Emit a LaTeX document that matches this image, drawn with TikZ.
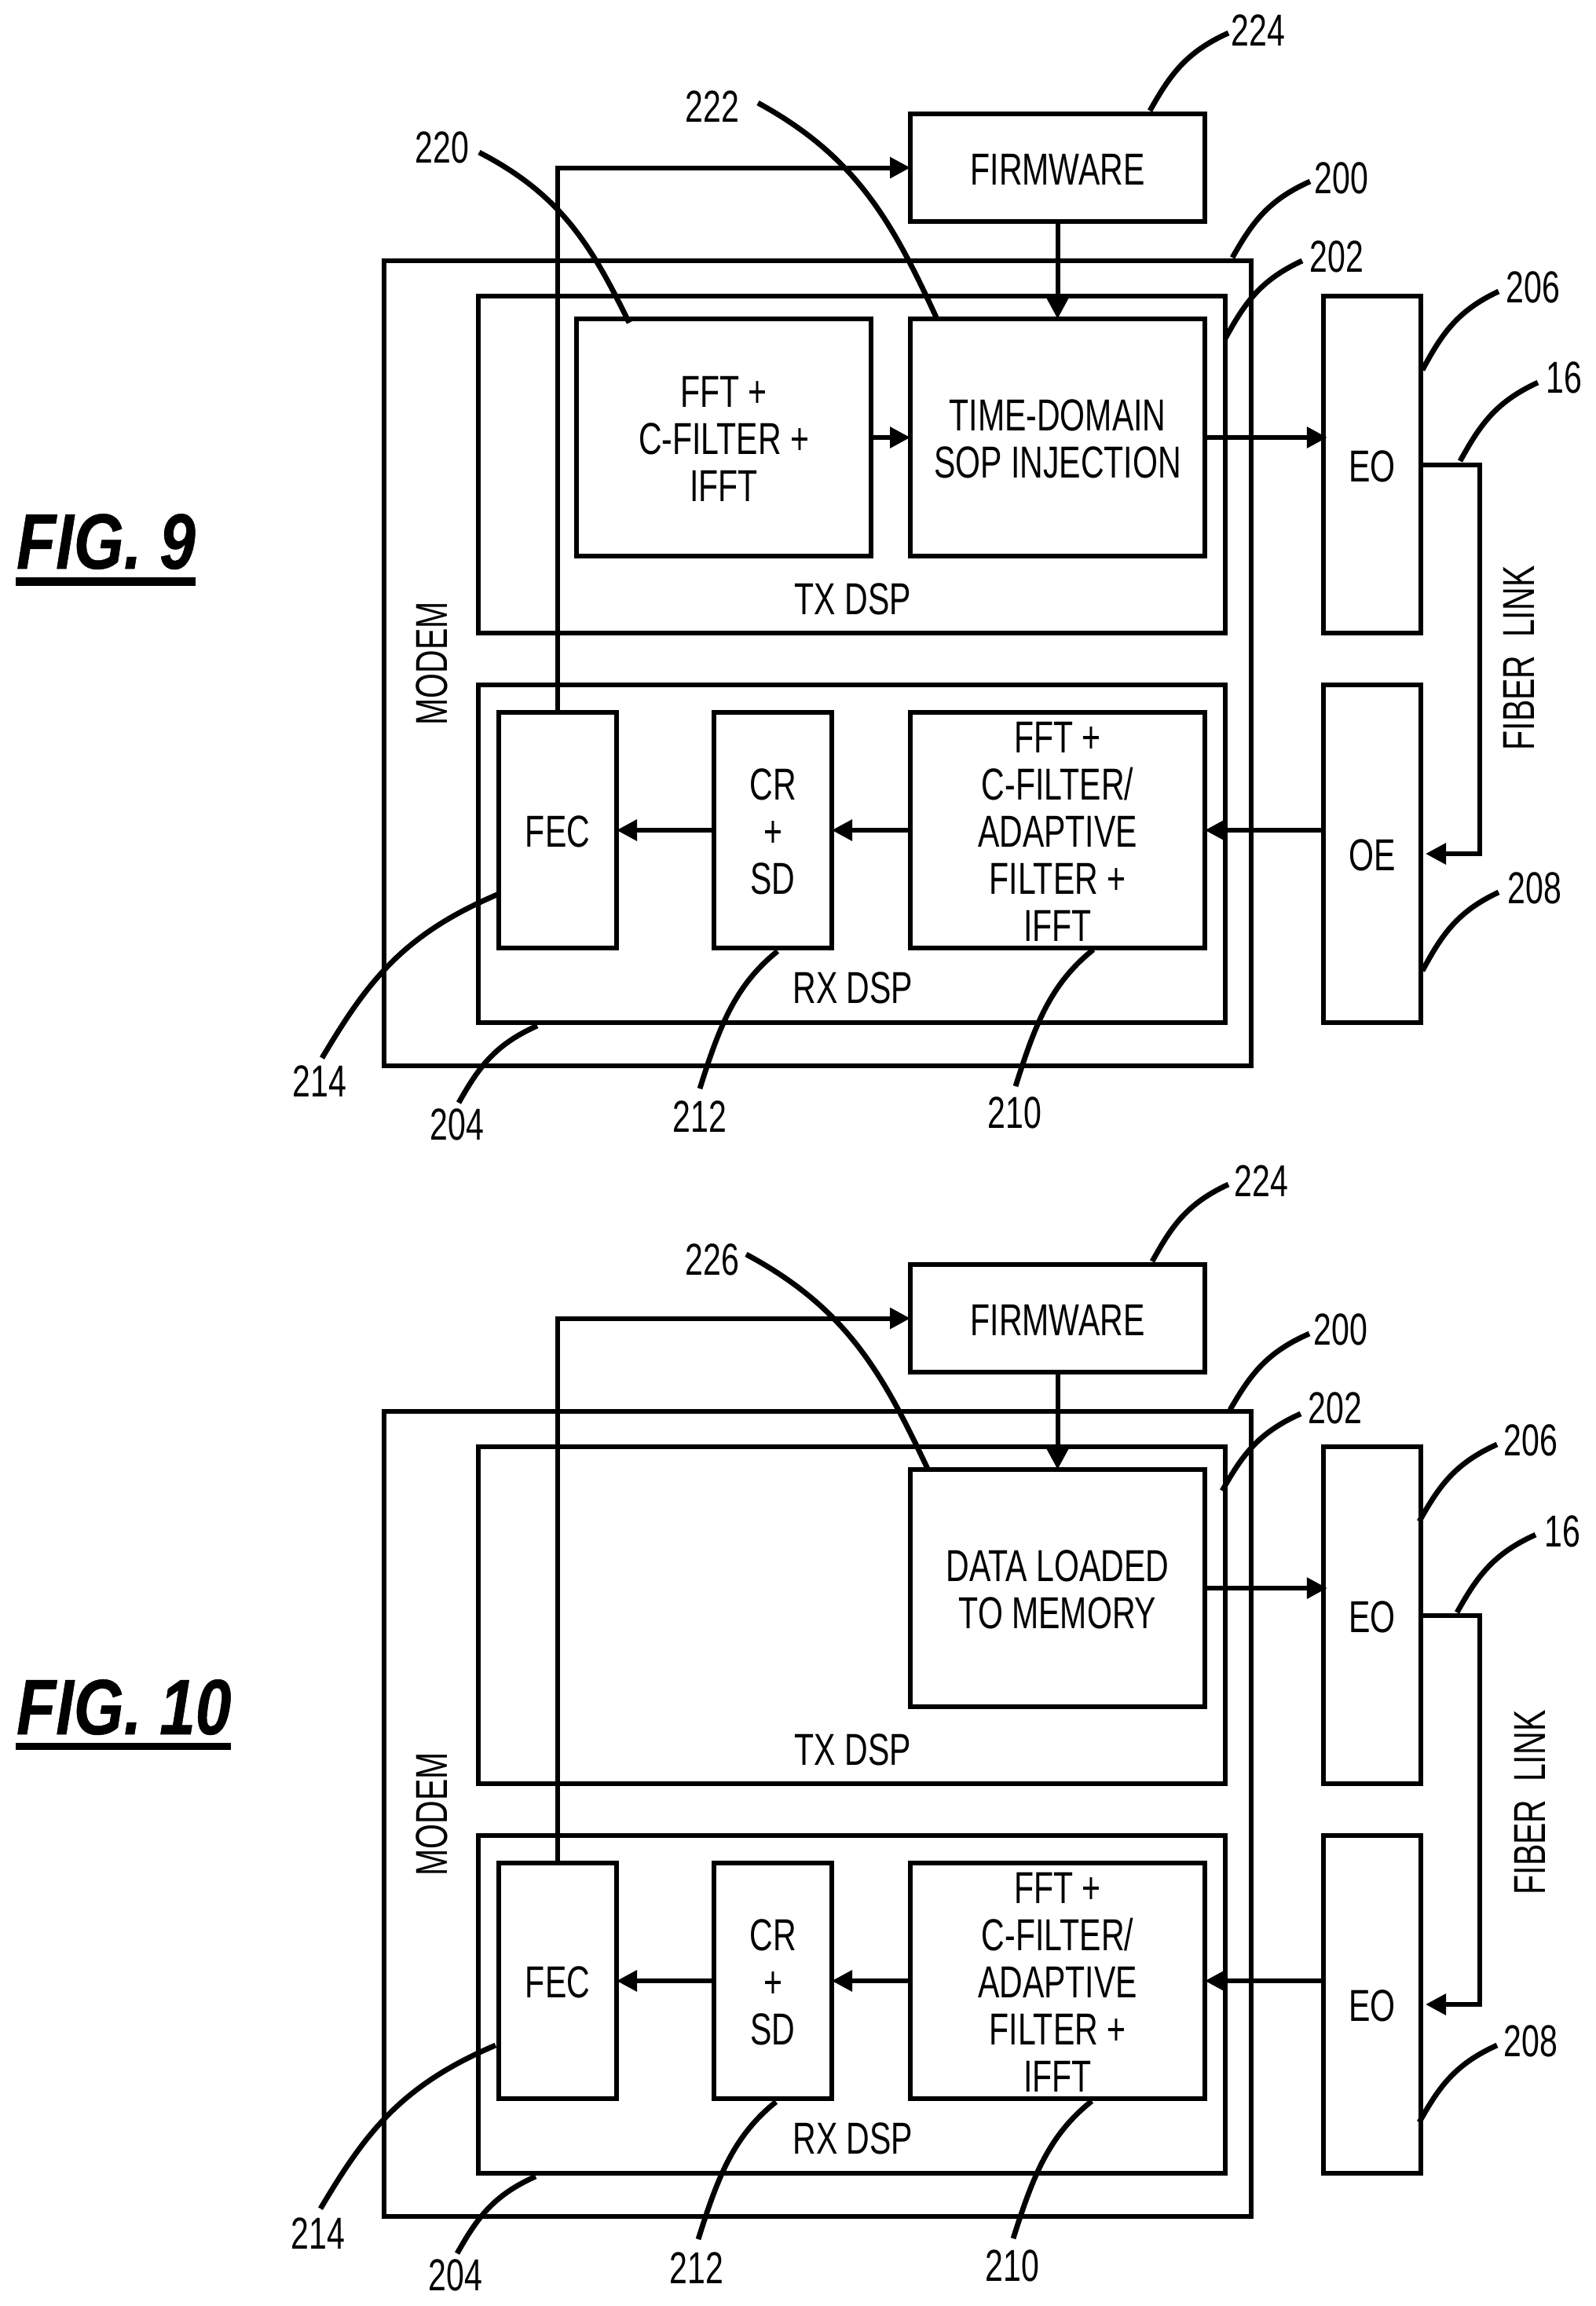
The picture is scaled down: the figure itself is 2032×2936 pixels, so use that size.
\documentclass[tikz,border=0pt]{standalone}
\usepackage{fontspec}
\setmainfont{Liberation Sans}[FakeStretch=0.72]
\newfontfamily\figf{Liberation Sans}[FakeStretch=0.82,FakeBold=0.5]
\usetikzlibrary{arrows.meta,calc}
\tikzset{
  lblfont/.style={font=\fontsize{14.25}{15}\selectfont},
  boxn/.style={draw=black,line width=1.5pt,inner sep=0pt,outer sep=0pt,align=center,lblfont,line join=miter},
  txt/.style={inner sep=0pt,outer sep=0pt,align=center,lblfont},
  arr/.style={line width=1.5pt,-{Triangle[length=6.5pt,width=6.5pt]}},
  ldrline/.style={line width=1.7pt},
  figlabel/.style={inner sep=0pt,outer sep=0pt,anchor=base west,font=\figf\bfseries\itshape\fontsize{25}{25}\selectfont}
}
\newcommand{\bx}[6]{%
  \pgfmathsetmacro{\cxx}{(#2+#4)/2}\pgfmathsetmacro{\cyy}{(#3+#5)/2}%
  \pgfmathsetmacro{\ww}{(#4-#2)*0.25}\pgfmathsetmacro{\hh}{(#5-#3)*0.25}%
  \node[boxn,minimum width=\ww pt,minimum height=\hh pt,label={[txt,yshift=-0.5pt]center:{#6}}] (#1) at (\cxx,\cyy) {};}
\newcommand{\ldr}[5]{%
  \coordinate (#1-a) at (#2,#3);\coordinate (#1-b) at (#4,#5);%
  \pgfmathsetmacro{\pa}{#2+0.55*(#4-#2)}\pgfmathsetmacro{\pb}{#3+0.25*(#5-#3)}%
  \pgfmathsetmacro{\pc}{#2+0.75*(#4-#2)}\pgfmathsetmacro{\pd}{#3+0.55*(#5-#3)}%
  \draw[ldrline] (#1-a) .. controls (\pa,\pb) and (\pc,\pd) .. (#1-b);}
\newcommand{\commonfig}[1]{%
  \bx{modem}{489}{332}{1593}{1357}{}
  \bx{tx}{609}{377}{1560}{806}{}
  \bx{rx}{609}{872}{1560}{1302}{}
  \bx{fw}{1159}{145}{1534}{282}{FIRMWARE}
  \bx{fec}{635}{907}{785}{1207}{FEC}
  \bx{cr}{909}{907}{1059}{1207}{CR\\+\\SD}
  \bx{rxf}{1159}{907}{1534}{1207}{FFT +\\C-FILTER/\\ADAPTIVE\\FILTER +\\IFFT}
  \bx{eo}{1685}{377}{1809}{806}{EO}
  \bx{oe}{1685}{872}{1809}{1302}{#1}
  \node[txt] (txl) at (1086,763) {TX DSP};
  \node[txt] (rxl) at (1086,1258) {RX DSP};
  \node[txt,rotate=90] (modl) at (550,845) {MODEM};
  \coordinate (fib) at (1884,800);
  \draw[arr] (fec.north) |- (fw.west);
  \draw[arr] (rxf.west) -- (cr.east);
  \draw[arr] (cr.west) -- (fec.east);
  \draw[arr] (rxf.east -| oe.west) -- (rxf.east);
  \draw[arr,shorten >=1.5pt] (eo.east) -- (eo.east -| fib) -- (oe.east -| fib) -- (oe.east);
}
\begin{document}
\begin{tikzpicture}[x=0.25pt,y=-0.25pt]
\path[fill=white,use as bounding box] (0,0) rectangle (2032,2936);
% ---------- FIG. 9
\begin{scope}[name prefix=a-]
  \commonfig{OE}
  \bx{fft}{734}{406}{1109}{708}{FFT +\\C-FILTER +\\IFFT}
  \bx{sop}{1159}{406}{1534}{708}{TIME-DOMAIN\\SOP INJECTION}
  \draw[arr] (fft.east) -- (sop.west);
  \draw[arr] (fw.south) -- (sop.north);
  \draw[arr,shorten >=-1.2pt] (sop.east) -- (sop.east -| eo.west);
  \node[txt,rotate=90] (fibl) at (1934,838) {FIBER\ \ LINK};
  \node[figlabel] (figl) at (21,724) {FIG. 9};
  \fill (20,735) rectangle (249,746);
  \node[txt] (n220) at (563,188) {220};
  \node[txt] (n222) at (907,136) {222};
  \node[txt] (n224) at (1602,39) {224};
  \node[txt] (n200) at (1708,227) {200};
  \node[txt] (n202) at (1702,327) {202};
  \node[txt] (n206) at (1952,366) {206};
  \node[txt] (n16) at (1991,481) {16};
  \node[txt] (n208) at (1954,1131) {208};
  \node[txt] (n214) at (407,1377) {214};
  \node[txt] (n204) at (582,1432) {204};
  \node[txt] (n212) at (891,1422) {212};
  \node[txt] (n210) at (1292,1417) {210};
  \ldr{l220}{610}{194}{801}{411}
  \ldr{l222}{965}{131}{1192}{404}
  \ldr{l224}{1564}{42}{1464}{141}
  \ldr{l200}{1668}{231}{1569}{328}
  \ldr{l202}{1658}{332}{1560}{431}
  \ldr{l206}{1908}{371}{1811}{471}
  \ldr{l16}{1958}{487}{1859}{587}
  \ldr{l208}{1908}{1136}{1811}{1236}
  \ldr{l214}{633}{1139}{410}{1347}
  \ldr{l204}{684}{1306}{584}{1404}
  \ldr{l212}{990}{1211}{891}{1386}
  \ldr{l210}{1392}{1209}{1293}{1383}
\end{scope}
% ---------- FIG. 10
\begin{scope}[name prefix=b-,shift={(0,1465)}]
  \commonfig{EO}
  \bx{mem}{1159}{406}{1534}{708}{DATA LOADED\\TO MEMORY}
  \draw[arr] (fw.south) -- (mem.north);
  \draw[arr,shorten >=-1.2pt] (mem.east) -- (mem.east -| eo.west);
  \node[txt,rotate=90] (fibl) at (1948,830) {FIBER\ \ LINK};
\end{scope}
\begin{scope}[name prefix=b-]
  \node[figlabel] (figl) at (21,2208) {FIG. 10};
  \fill (20,2219) rectangle (294,2228);
  \node[txt] (n226) at (907,1604) {226};
  \node[txt] (n224) at (1606,1504) {224};
  \node[txt] (n200) at (1707,1693) {200};
  \node[txt] (n202) at (1700,1793) {202};
  \node[txt] (n206) at (1949,1834) {206};
  \node[txt] (n16) at (1989,1950) {16};
  \node[txt] (n208) at (1949,2599) {208};
  \node[txt] (n214) at (405,2844) {214};
  \node[txt] (n204) at (580,2897) {204};
  \node[txt] (n212) at (887,2888) {212};
  \node[txt] (n210) at (1289,2885) {210};
  \ldr{l226}{950}{1597}{1181}{1870}
  \ldr{l224}{1564}{1508}{1467}{1606}
  \ldr{l200}{1667}{1698}{1566}{1795}
  \ldr{l202}{1656}{1800}{1556}{1898}
  \ldr{l206}{1906}{1839}{1807}{1937}
  \ldr{l16}{1955}{1954}{1855}{2053}
  \ldr{l208}{1906}{2604}{1807}{2702}
  \ldr{l214}{631}{2604}{408}{2812}
  \ldr{l204}{682}{2771}{582}{2869}
  \ldr{l212}{988}{2676}{889}{2851}
  \ldr{l210}{1390}{2675}{1290}{2850}
\end{scope}
\end{tikzpicture}
\end{document}
